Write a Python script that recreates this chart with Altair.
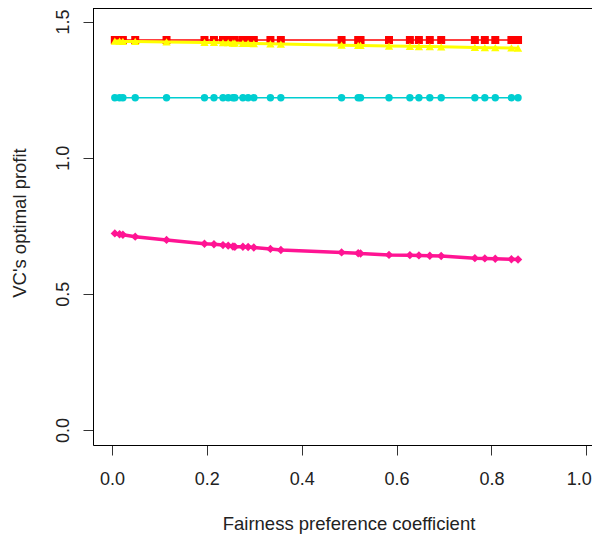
import altair as alt
import pandas as pd

# Fairness preference coefficient (x values, shared by every series)
fairness = [0.006, 0.016, 0.023, 0.049, 0.115, 0.195, 0.215, 0.234, 0.245, 0.255,
            0.259, 0.276, 0.287, 0.299, 0.334, 0.356, 0.484, 0.519, 0.524, 0.584,
            0.628, 0.647, 0.670, 0.694, 0.765, 0.786, 0.808, 0.842, 0.856]

profit_red = [1.432, 1.432, 1.432, 1.432, 1.432, 1.432, 1.432, 1.432, 1.432, 1.432,
              1.432, 1.432, 1.432, 1.432, 1.432, 1.432, 1.432, 1.432, 1.432, 1.432,
              1.432, 1.432, 1.432, 1.432, 1.432, 1.432, 1.432, 1.432, 1.432]

profit_yellow = [1.428, 1.428, 1.427, 1.427, 1.425, 1.423, 1.423, 1.422, 1.422, 1.421,
                 1.421, 1.420, 1.420, 1.419, 1.418, 1.417, 1.413, 1.412, 1.412, 1.410,
                 1.409, 1.408, 1.408, 1.407, 1.405, 1.404, 1.404, 1.403, 1.402]

profit_cyan = [1.220, 1.220, 1.220, 1.220, 1.220, 1.220, 1.220, 1.220, 1.220, 1.220,
               1.220, 1.220, 1.220, 1.220, 1.220, 1.220, 1.220, 1.220, 1.220, 1.220,
               1.220, 1.220, 1.220, 1.220, 1.220, 1.220, 1.220, 1.220, 1.220]

profit_pink = [0.722, 0.719, 0.717, 0.710, 0.698, 0.684, 0.682, 0.679, 0.677, 0.674,
               0.673, 0.673, 0.672, 0.670, 0.665, 0.661, 0.652, 0.649, 0.648, 0.643,
               0.642, 0.641, 0.640, 0.639, 0.631, 0.630, 0.629, 0.627, 0.626]

x_ticks = [0.0, 0.2, 0.4, 0.6, 0.8, 1.0]
y_ticks = [0.0, 0.5, 1.0, 1.5]

x_title = "Fairness preference coefficient"
y_title = "VC's optimal profit"

FONT = "Liberation Sans"
W, H = 499, 437

x_scale = alt.Scale(domain=[-0.04, 1.0119], nice=False, zero=False)
y_scale = alt.Scale(domain=[-0.0551, 1.5496], nice=False, zero=False)

x_axis = alt.Axis(values=x_ticks, format=".1f", grid=False, tickSize=10,
                  labelPadding=15, labelFontSize=18, labelFont=FONT,
                  labelColor="#222", labelBaseline="top",
                  domainColor="#000", tickColor="#333", domainWidth=1, tickWidth=1,
                  title=x_title, titleFont=FONT, titleFontSize=18.5,
                  titleFontWeight="normal", titleColor="#222",
                  titleX=255.5, titleY=84, titleAlign="center",
                  titleBaseline="alphabetic", labelFlush=8, labelFlushOffset=5,
                  labelOverlap=False)

y_axis = alt.Axis(values=y_ticks, format=".1f", grid=False, tickSize=10,
                  labelPadding=15, labelFontSize=18, labelFont=FONT,
                  labelColor="#222", labelAngle=270, labelAlign="center",
                  labelBaseline="alphabetic",
                  domainColor="#000", tickColor="#333", domainWidth=1, tickWidth=1,
                  title=y_title, titleFont=FONT, titleFontSize=18.5,
                  titleFontWeight="normal", titleColor="#222", titleAngle=270,
                  titleX=-68, titleY=214.5, titleAlign="center",
                  titleBaseline="alphabetic", labelFlush=False, labelOverlap=False)

series = [
    (profit_red, "square", "#FF0000", 64, 1.5),
    (profit_yellow, "triangle-up", "#FFFF00", 70, 3),
    (profit_cyan, "circle", "#00CED1", 55, 1.5),
    (profit_pink, "diamond", "#FF1493", 70, 3.5),
]

layers = []
for vals, shape, color, size, lw in series:
    df = pd.DataFrame({"x": fairness, "y": vals})
    base = alt.Chart(df).encode(
        x=alt.X("x:Q", scale=x_scale, axis=x_axis),
        y=alt.Y("y:Q", scale=y_scale, axis=y_axis),
    )
    layers.append(base.mark_line(color=color, strokeWidth=lw))
    layers.append(base.mark_point(shape=shape, filled=True, size=size,
                                  color=color, opacity=1, strokeWidth=0))

top_line = alt.Chart(pd.DataFrame({"a": [0]})).mark_rule(
    color="#000", strokeWidth=1).encode(
    x=alt.value(0), x2=alt.value(W), y=alt.value(0.5))

chart = alt.layer(*layers, top_line).properties(
    width=W, height=H,
    autosize=alt.AutoSizeParams(type="none"),
    padding={"left": 85, "top": 0, "right": 0, "bottom": 89},
).configure_view(stroke=None).configure(background="white")

chart.save("out.html", embed_options={"renderer": "svg", "actions": False})
